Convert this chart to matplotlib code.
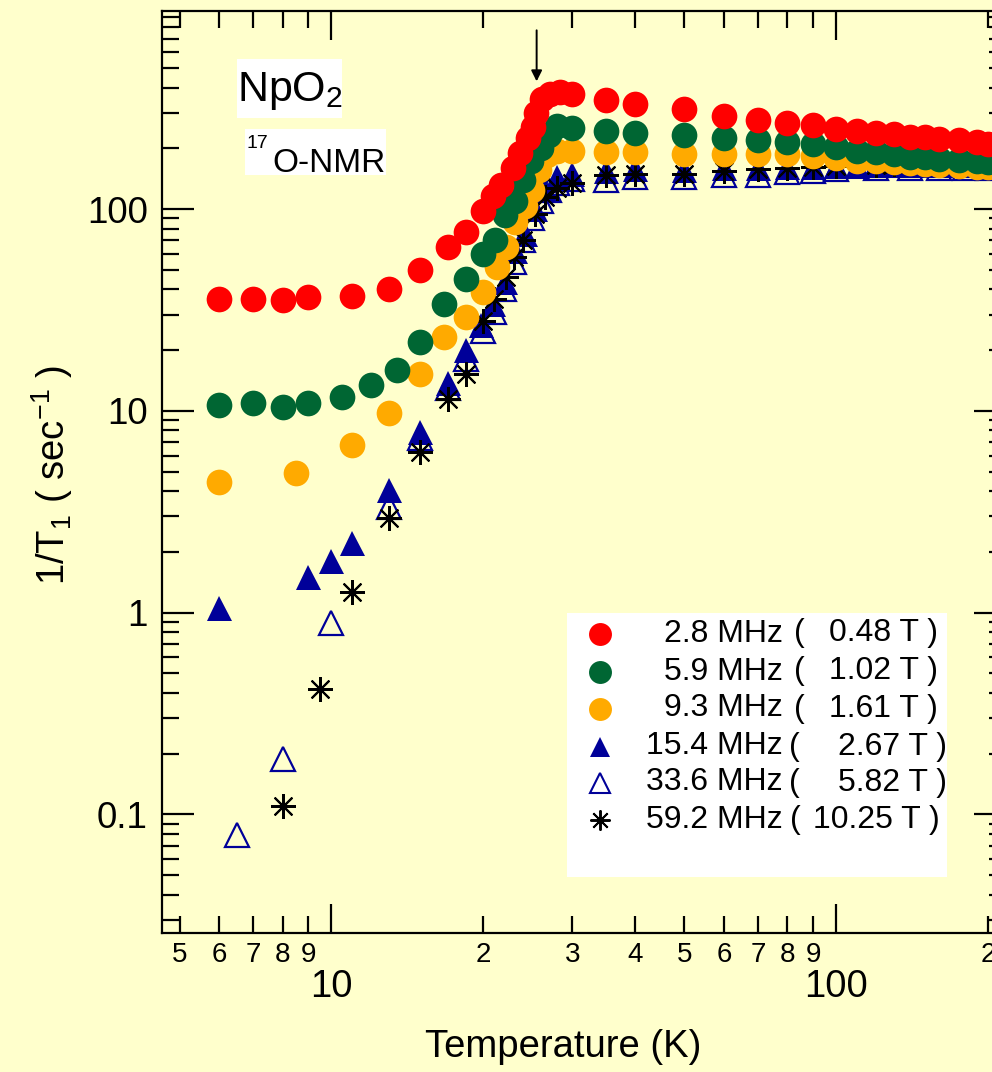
import matplotlib.pyplot as plt
from matplotlib.ticker import FixedLocator, FixedFormatter, NullFormatter
from matplotlib.patches import Rectangle

plt.rcParams['font.family'] = ['Liberation Sans', 'DejaVu Sans']
plt.rcParams['mathtext.fontset'] = 'custom'
plt.rcParams['mathtext.rm'] = 'Liberation Sans'
plt.rcParams['mathtext.it'] = 'Liberation Sans'

BG = '#FFFFCC'
W, H = 992, 1072

# 1/T1 (sec^-1) vs temperature (K), one pair of lists per frequency
t_28 = [6, 7, 8, 9, 11, 13, 15, 17, 18.5, 20, 20.9, 21.7, 22.9, 23.6, 24.5,
        25.1, 25.4, 26.1, 27.1, 28.4, 30, 35, 40, 50, 60, 70, 80, 90, 100,
        110, 120, 130, 140, 150, 160, 175, 190, 200]
r_28 = [36, 36, 35.5, 36.5, 37, 40, 50, 65, 77, 98, 116, 132, 160, 190, 225,
        255, 300, 350, 372, 380, 372, 348, 332, 314, 291, 277, 267, 260, 250,
        243, 238, 236, 229, 229, 223, 219, 215, 211]

t_59 = [6, 7, 8, 9, 10.5, 12, 13.5, 15, 16.7, 18.5, 20, 21.1, 22.1, 23.1, 24,
        24.9, 26, 27, 28, 30, 35, 40, 50, 60, 70, 80, 90, 100, 110, 120, 130,
        140, 150, 160, 175, 190, 200]
r_59 = [10.7, 11, 10.5, 10.9, 11.7, 13.4, 16, 22, 34, 45, 60, 70, 93, 110,
        139, 174, 200, 232, 258, 252, 244, 238, 232, 225, 219, 215, 211, 203,
        195, 191, 188, 182, 182, 177, 175, 173, 171]

t_93 = [6, 8.5, 11, 13, 15, 16.7, 18.5, 20, 21.3, 22.2, 23.1, 24.2, 25, 25.8,
        26.7, 28, 30, 35, 40, 50, 60, 70, 80, 90, 100, 110, 120, 130, 140,
        150, 160, 175, 190, 200]
r_93 = [4.45, 4.93, 6.76, 9.8, 15.3, 23.2, 29.2, 38.8, 51.6, 65, 86, 104, 124,
        156, 185, 195, 195, 191, 191, 188, 188, 187, 188, 184, 180, 174, 174,
        172, 169, 168, 166, 164, 162, 161]

t_154 = [6, 9, 10, 11, 13, 15, 17, 18.5, 19.8, 20.9, 22.1, 23.1, 24.2, 25.3,
         26.5, 28, 30, 35, 40, 50, 60, 70, 80, 90, 100, 110, 120, 130, 140,
         150, 160, 175, 190, 200]
r_154 = [1.05, 1.5, 1.8, 2.2, 4.05, 7.85, 13.8, 20, 26.5, 34, 43.5, 62, 75,
         100, 125, 145, 150, 155, 158, 157, 160, 160, 162, 162, 163, 164, 165,
         165, 165, 165, 165, 165, 165, 165]

t_336 = [6.5, 8, 10, 13, 15, 17, 18.5, 20, 21, 22, 23, 24, 25, 26, 27, 28, 30,
         35, 40, 50, 60, 70, 80, 90, 100, 120, 140, 160, 180, 200]
r_336 = [0.079, 0.187, 0.886, 3.35, 7.3, 13, 18, 25, 31, 40, 55, 70, 90, 110,
         125, 135, 141, 139, 144, 144, 147, 147, 152, 155, 158, 160, 160, 160,
         160, 160]

t_592 = [8, 9.5, 11, 13, 15, 17, 18.5, 20, 21, 22.2, 23, 24, 25.3, 26.5, 28,
         30, 35, 40, 50, 60, 70, 80, 90, 100, 120, 130, 150, 175, 200]
r_592 = [0.11, 0.42, 1.27, 2.93, 6.25, 11.4, 15.3, 28, 36, 46, 58, 70, 95, 115,
         128, 134, 147, 150, 150, 155, 158, 160, 162, 164, 166, 168, 168, 168,
         168]

freq_labels = ['2.8', '5.9', '9.3', '15.4', '33.6', '59.2']
field_labels = ['0.48', '1.02', '1.61', '2.67', '5.82', '10.25']

x_major = [10, 100]
x_major_labels = ['10', '100']
x_minor = [5, 6, 7, 8, 9, 20, 30, 40, 50, 60, 70, 80, 90, 200]
x_minor_labels = ['5', '6', '7', '8', '9', '2', '3', '4', '5', '6', '7', '8',
                  '9', '2']
y_major = [0.1, 1, 10, 100]
y_major_labels = ['0.1', '1', '10', '100']

RED, GREEN, ORANGE, NAVY = '#FF0000', '#006633', '#FFAA00', '#000099'

# marker styles, in drawing order (bottom first)
styles = [
    (t_154, r_154, dict(marker='^', ms=18, color=NAVY, mew=0)),
    (t_336, r_336, dict(marker='^', ms=17, mfc='none', mec=NAVY, mew=1.6)),
    (t_592, r_592, dict(marker=(8, 2, 0), ms=18, color='black', mew=1.5)),
    (t_93, r_93, dict(marker='o', ms=18.5, color=ORANGE, mew=0)),
    (t_59, r_59, dict(marker='o', ms=18.5, color=GREEN, mew=0)),
    (t_28, r_28, dict(marker='o', ms=18.5, color=RED, mew=0)),
]


def fig_box(x0, y0, x1, y1):
    """pixel box (top-left origin) -> figure-fraction rect"""
    return [x0 / W, 1 - y1 / H, (x1 - x0) / W, (y1 - y0) / H]


def fx(x):
    return x / W


def fy(y):
    return 1 - y / H


fig = plt.figure(figsize=(W / 100, H / 100), dpi=100, facecolor=BG)
ax = fig.add_axes(fig_box(161.7, 11, 1006, 933.3), facecolor=BG)
ax.set_xscale('log')
ax.set_yscale('log')

for t, r, kw in styles:
    ax.plot(t, r, linestyle='none', **kw)

ax.set_xlim(4.61, 217)
ax.set_ylim(0.0257, 960)

ax.xaxis.set_major_locator(FixedLocator(x_major))
ax.xaxis.set_major_formatter(FixedFormatter(x_major_labels))
ax.xaxis.set_minor_locator(FixedLocator(x_minor))
ax.xaxis.set_minor_formatter(FixedFormatter(x_minor_labels))
ax.yaxis.set_major_locator(FixedLocator(y_major))
ax.yaxis.set_major_formatter(FixedFormatter(y_major_labels))
y_minor = [m * 10.0 ** e for e in range(-2, 3) for m in range(2, 10)]
ax.yaxis.set_minor_locator(FixedLocator(y_minor))
ax.yaxis.set_minor_formatter(NullFormatter())

ax.tick_params(axis='x', which='major', direction='in', length=21, width=1.6,
               top=True, labelsize=27.5, pad=26)
ax.tick_params(axis='x', which='minor', direction='in', length=12, width=1.6,
               top=True, labelsize=20, pad=6)
ax.tick_params(axis='y', which='major', direction='in', length=23, width=1.6,
               right=True, labelsize=26.5, pad=10)
ax.tick_params(axis='y', which='minor', direction='in', length=12.5,
               width=1.6, right=True)
for sp in ax.spines.values():
    sp.set_linewidth(1.6)

# axis titles
fig.text(fx(563.5), fy(1047), 'Temperature (K)', fontsize=27.5,
         ha='center', va='center')
fig.text(fx(52), fy(475), r'1/T$_\mathrm{1}$ ( sec$^{-1}$ )', fontsize=27.5,
         rotation=90, ha='center', va='center')

# sample / method labels on white patches
fig.add_artist(Rectangle((fx(237), fy(118)), (342 - 237) / W, (118 - 59) / H,
                         transform=fig.transFigure, facecolor='white',
                         edgecolor='none'))
fig.add_artist(Rectangle((fx(245), fy(175)), (386 - 245) / W, (175 - 129) / H,
                         transform=fig.transFigure, facecolor='white',
                         edgecolor='none'))
fig.text(fx(237), fy(101), r'NpO$_\mathrm{2}$', fontsize=31, ha='left',
         va='baseline')
fig.text(fx(246), fy(148), '17', fontsize=14, ha='left', va='baseline')
fig.text(fx(272), fy(172), 'O-NMR', fontsize=24, ha='left', va='baseline')

# transition arrow
ax.annotate('', xy=(25.5, 430), xytext=(25.5, 770),
            arrowprops=dict(arrowstyle='-|>', color='black', lw=1.4,
                            mutation_scale=16, shrinkA=0, shrinkB=0))

# legend box, its data units are figure pixels
lg = fig.add_axes(fig_box(567, 613, 947, 877), facecolor='white')
lg.set_xlim(567, 947)
lg.set_ylim(877, 613)
lg.set_xticks([])
lg.set_yticks([])
for sp in lg.spines.values():
    sp.set_visible(False)

legend_marks = [
    dict(marker='o', ms=16.5, color=RED, mew=0),
    dict(marker='o', ms=16.5, color=GREEN, mew=0),
    dict(marker='o', ms=16.5, color=ORANGE, mew=0),
    dict(marker='^', ms=15, color=NAVY, mew=0),
    dict(marker='^', ms=14, mfc='none', mec=NAVY, mew=1.5),
    dict(marker=(8, 2, 0), ms=14.5, color='black', mew=1.4),
]
row_y = [633.5, 671.5, 708.5, 746.5, 782.5, 820]
paren_x = [794, 794, 794, 789, 789, 790]
end_x = [938, 938, 938, 947, 947, 940]
for i, kw in enumerate(legend_marks):
    y = row_y[i]
    lg.plot([600], [y], linestyle='none', **kw)
    lg.text(783, y, freq_labels[i] + ' MHz', fontsize=23, ha='right',
            va='center')
    lg.text(paren_x[i], y, '(', fontsize=23, ha='left', va='center')
    lg.text(end_x[i], y, field_labels[i] + ' T )', fontsize=23, ha='right',
            va='center', clip_on=False)

fig.savefig('out.png', dpi=100, facecolor=BG)
